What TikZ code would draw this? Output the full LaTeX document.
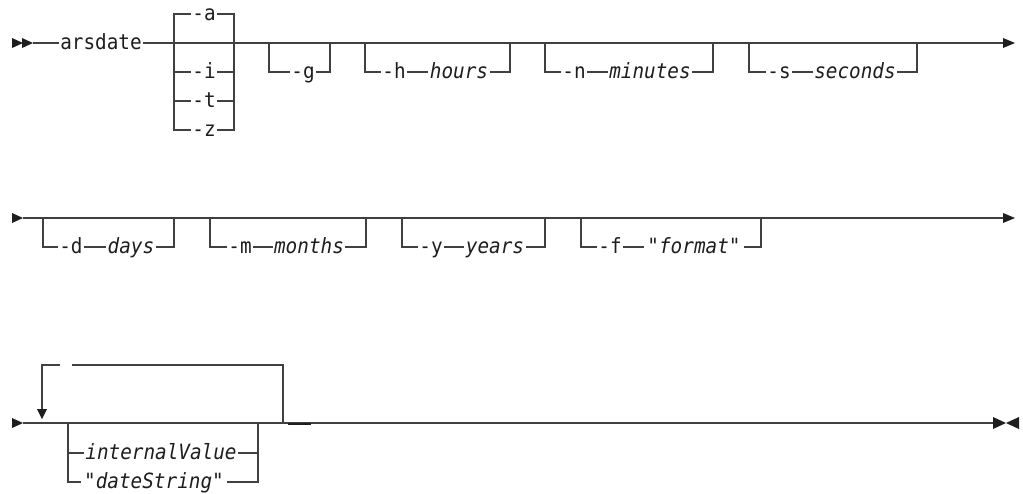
\documentclass[tikz,border=0pt]{standalone}
\usepackage{fontspec}
\setmonofont[FakeStretch=0.92]{DejaVu Sans Mono}
\definecolor{linecol}{HTML}{404040}
\definecolor{textcol}{HTML}{1E1E1E}
\begin{document}
\begin{tikzpicture}[x=1pt,y=-1pt,
  rr/.style={draw=linecol, line width=1.2pt},
  tip/.style={fill=textcol},
  kw/.style={font=\ttfamily\fontsize{21}{21}\selectfont, fill=white, inner xsep=1.5pt, inner ysep=0.5pt, anchor=base, yshift=-6.2pt, text=textcol},
  var/.style={kw, font=\ttfamily\itshape\fontsize{21}{21}\selectfont}]
\useasboundingbox (0,0) rectangle (1023,493);

% ---------------- Row 1 ----------------
\coordinate (r1s) at (33,43);
\coordinate (r1e) at (1003,43);
\draw[rr] (r1s) -- (r1e);
\fill[tip] (12,38) -- (23,43) -- (12,48) -- cycle;
\fill[tip] (22,38) -- (33,43) -- (22,48) -- cycle;
\fill[tip] (1003,38) -- (1015,43) -- (1003,48) -- cycle;
\node[kw] (arsdate) at (101,43) {arsdate};

% choice -a -i -t -z
\draw[rr] (174,14) rectangle (234,130);
\draw[rr] (174,72) -- (234,72);
\draw[rr] (174,101) -- (234,101);
\node[kw] (oa) at (204,14) {-a};
\node[kw] (oi) at (204,72) {-i};
\node[kw] (ot) at (204,101) {-t};
\node[kw] (oz) at (204,130) {-z};

% -g
\draw[rr] (269,43) -- (269,72) -- (330,72) -- (330,43);
\node[kw] (og) at (303,72) {-g};
% -h hours
\draw[rr] (365,43) -- (365,72) -- (510,72) -- (510,43);
\node[kw] (oh) at (394,72) {-h};
\node[var] (vh) at (459,72) {hours};
% -n minutes
\draw[rr] (545,43) -- (545,72) -- (713,72) -- (713,43);
\node[kw] (on) at (574,72) {-n};
\node[var] (vn) at (650,72) {minutes};
% -s seconds
\draw[rr] (749,43) -- (749,72) -- (917,72) -- (917,43);
\node[kw] (os) at (779,72) {-s};
\node[var] (vs) at (855,72) {seconds};

% ---------------- Row 2 ----------------
\coordinate (r2s) at (23,218);
\coordinate (r2e) at (1003,218);
\fill[tip] (12,213) -- (23,218) -- (12,223) -- cycle;
\draw[rr] (r2s) -- (r2e);
\fill[tip] (1003,213) -- (1015,218) -- (1003,223) -- cycle;
% -d days
\draw[rr] (43,218) -- (43,247) -- (174,247) -- (174,218);
\node[kw] (od) at (71,247) {-d};
\node[var] (vd) at (131,247) {days};
% -m months
\draw[rr] (210,218) -- (210,247) -- (366,247) -- (366,218);
\node[kw] (om) at (240,247) {-m};
\node[var] (vm) at (309,247) {months};
% -y years
\draw[rr] (402,218) -- (402,247) -- (545,247) -- (545,218);
\node[kw] (oy) at (431,247) {-y};
\node[var] (vy) at (495,247) {years};
% -f "format"
\draw[rr] (581,218) -- (581,247) -- (761,247) -- (761,218);
\node[kw] (of) at (610,247) {-f};
\node[var, inner xsep=3pt] (vf) at (694,247) {"format"};

% ---------------- Row 3 ----------------
\coordinate (r3s) at (23,423);
\coordinate (r3e) at (993,423);
\fill[tip] (12,418) -- (23,423) -- (12,428) -- cycle;
\draw[rr] (r3s) -- (r3e);
\fill[tip] (993,417) -- (1006,423) -- (993,429) -- cycle;
\fill[tip] (1019,417) -- (1006,423) -- (1019,429) -- cycle;
% repeat loop
\draw[rr] (283,423) -- (283,365) -- (72,365);
\draw[rr] (60,365) -- (42,365) -- (42,410);
\fill[tip] (37,409) -- (47,409) -- (42,419) -- cycle;
% choice internalValue / "dateString"
\draw[rr] (68,423) -- (68,482) -- (258,482) -- (258,423);
\draw[rr] (68,453) -- (258,453);
\node[var] (viv) at (161,453) {internalValue};
\node[var, inner xsep=3pt] (vds) at (154,482) {"dateString"};
\draw[draw=textcol, line width=2.2pt] (288,424) -- (311,424);
\end{tikzpicture}
\end{document}
